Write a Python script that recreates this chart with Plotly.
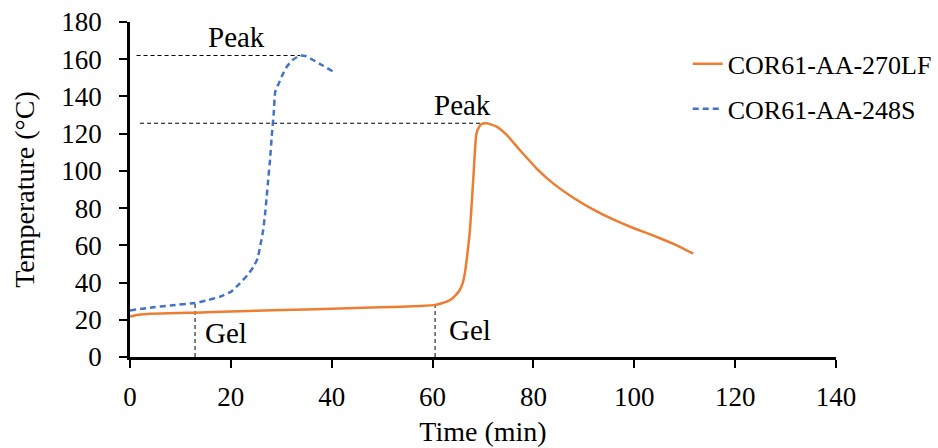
import plotly.graph_objects as go

# Exotherm curves: time (min) vs temperature (°C)
time_270lf = [0, 2, 4, 10, 12.9, 20, 30, 40, 49.6, 55, 57.5, 60.5, 62, 63.5, 64.5, 65.4, 66,
              66.4, 66.8, 67.4, 68.1, 68.7, 69.2, 69.7, 70.7, 72.7, 74.7, 77.3, 80.6, 83.9,
              87.9, 91.9, 95.8, 99.8, 102.5, 105.1, 108.5, 111.7]
temp_270lf = [21.8, 22.8, 23.3, 23.7, 23.8, 24.5, 25.2, 25.9, 26.7, 27.1, 27.4, 28, 29, 30.6,
              33, 36, 40, 45, 53, 68, 97, 120, 123.5, 125.2, 125.6, 123.8, 119.3, 111.2,
              101.4, 93.3, 85.6, 79.2, 73.9, 69.3, 66.6, 63.8, 59.9, 55.5]

time_248s = [0, 4, 8, 12.9, 15, 17.8, 20, 21.8, 23.3, 24.5, 25.3, 25.8, 26.4, 26.8, 27.1,
             27.4, 27.8, 28.1, 28.5, 28.8, 29.5, 30.3, 31.1, 32.2, 33.7, 35, 36.3, 38.3, 40.3]
temp_248s = [25, 26.5, 27.7, 29, 30.2, 32.4, 35, 39.6, 44, 48.5, 53, 59.3, 68, 77.2, 86,
             95, 107, 118.4, 131, 142.6, 147, 152, 156, 159.5, 162, 161.5, 159.6, 156.5, 153.3]

# Gel and peak points: [248S, 270LF]
gel_time = [12.9, 60.5]
gel_temp = [29, 28]
peak_time = [33.7, 70.7]
peak_temp = [162, 125.6]
ref_start = [1.3, 2.0]

series_names = ["COR61-AA-270LF", "COR61-AA-248S"]
orange = "#ED7D31"
blue = "#4472C4"
FONT = "Times New Roman"

fig = go.Figure()

# Reference lines for gel (vertical) and peak (horizontal)
for i in range(2):
    fig.add_trace(go.Scatter(
        x=[gel_time[i], gel_time[i]], y=[0, gel_temp[i]], mode="lines",
        line=dict(color="black", width=1, dash="4px,3px"),
        showlegend=False, hoverinfo="skip"))
    fig.add_trace(go.Scatter(
        x=[ref_start[i], peak_time[i]], y=[peak_temp[i], peak_temp[i]], mode="lines",
        line=dict(color="black", width=1, dash="4px,3px"),
        showlegend=False, hoverinfo="skip"))

fig.add_trace(go.Scatter(
    x=time_270lf, y=temp_270lf, mode="lines", name=series_names[0],
    line=dict(color=orange, width=2.5, shape="spline", smoothing=0.6),
    legendgroup="a"))
fig.add_trace(go.Scatter(
    x=time_248s, y=temp_248s, mode="lines", name=series_names[1],
    line=dict(color=blue, width=2.5, dash="6px,4px", shape="spline", smoothing=0.4),
    legendgroup="b"))

# Text labels
labels = [
    ("Peak", 21.2, 172),
    ("Peak", 66, 135.4),
    ("Gel", 19, 12.9),
    ("Gel", 67.4, 14.5),
]
for txt, lx, ly in labels:
    fig.add_annotation(x=lx, y=ly, text=txt, showarrow=False,
                       font=dict(family=FONT, size=29, color="black"))

fig.update_layout(
    template="none",
    width=938, height=448,
    margin=dict(l=130, r=102, t=22, b=91, autoexpand=False),
    plot_bgcolor="white", paper_bgcolor="white",
    font=dict(family=FONT, size=27, color="black"),
    showlegend=True,
    legend=dict(x=0.79, y=0.945, xanchor="left", yanchor="top",
                font=dict(family=FONT, size=26, color="black"),
                traceorder="grouped", tracegroupgap=8,
                bgcolor="rgba(0,0,0,0)"),
)
fig.update_xaxes(
    range=[0, 140], dtick=20, showgrid=False, zeroline=False, automargin=False,
    showline=True, linecolor="black", linewidth=2.5,
    ticks="outside", ticklen=8, tickwidth=2, tickcolor="black",
    tickfont=dict(family=FONT, size=27, color="black"),
    ticklabelstandoff=6,
    title=dict(text="Time (min)", standoff=11, font=dict(family=FONT, size=28, color="black")),
)
fig.update_yaxes(
    range=[0, 180], dtick=20, showgrid=False, zeroline=False, automargin=False,
    showline=True, linecolor="black", linewidth=2.5,
    ticks="outside", ticklen=8, tickwidth=2, tickcolor="black",
    tickfont=dict(family=FONT, size=27, color="black"),
    ticklabelstandoff=12,
    title=dict(text="Temperature (°C)", standoff=19, font=dict(family=FONT, size=28, color="black")),
)

fig.write_html("out.html")
